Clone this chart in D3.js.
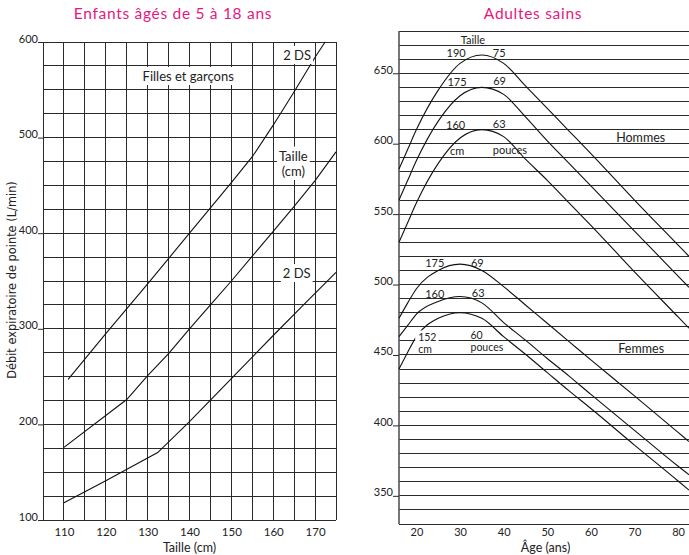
<!DOCTYPE html>
<html>
<head>
<meta charset="utf-8">
<script src="https://cdn.jsdelivr.net/npm/d3@7"></script>
<style>
  body { margin: 0; background: #fff; }
  svg { display: block; font-family: Lato, "Open Sans", sans-serif; }
</style>
</head>
<body>
<div id="chart"></div>
<script>
/* Débit expiratoire de pointe : enfants (taille) et adultes (âge) */

// --- enfants : taille (cm) -> DEP (L/min)
const tailleHaut = [111, 120, 130, 140, 150, 155, 160, 165, 170, 172.4];
const depHaut    = [247, 295, 347, 400, 453, 480, 513, 548, 584, 600];
const tailleMoy  = [110, 125, 130, 135, 140, 145, 150, 155, 160, 165, 170, 175];
const depMoy     = [176, 226, 251, 274, 300, 325, 350, 376, 402, 428, 455, 485];
const tailleBas  = [110, 120, 132.4, 140, 150, 160, 167, 175];
const depBas     = [118, 141, 170.5, 203, 248, 293, 324, 359];

const tailleTicks = [110, 120, 130, 140, 150, 160, 170];
const depTicks    = [100, 200, 300, 400, 500, 600];

// --- adultes : âge (ans) -> DEP (L/min)
const ages = [16, 18, 20, 25, 30, 35, 40, 45, 50, 55, 60, 70, 80, 82.5];
const homme190 = [582, 596, 610, 638, 657, 663, 657, 641, 625, 609, 593, 560, 528, 520];
const homme175 = [560, 574, 588, 616, 634, 640, 635, 619, 602, 586, 570, 538, 506, 498];
const homme160 = [530, 544, 558, 586, 604, 610, 605, 589, 574, 558, 542, 509, 477, 469];
const femme175 = [476, 487, 497, 510, 514.5, 510, 498.5, 485.5, 472.5, 459.5, 446.5, 421, 395, 388.5];
const femme160 = [463, 471, 479, 488, 491.5, 487, 473, 460.5, 447.5, 435, 422, 396.5, 371, 365];
const femme152 = [440, 452, 463, 476, 480, 476, 463, 450.5, 437.5, 424.5, 412, 386, 360.5, 354];

const ageTicks = [20, 30, 40, 50, 60, 70, 80];
const depAdTicks = [350, 400, 450, 500, 550, 600, 650];

const width = 689, height = 555;
const pink = "#e6177e";

let svg = d3.select("#chart")
    .append("svg")
    .attr("width", width)
    .attr("height", height)
    .attr("viewBox", [0, 0, width, height]);

// ================= graphique gauche =================
let xL = d3.scaleLinear().domain([105, 175]).range([43, 336]);
let yL = d3.scaleLinear().domain([100, 600]).range([520, 42]);

let gridL = svg.append("g")
    .attr("stroke", "#2a2a2a")
    .attr("shape-rendering", "crispEdges");

gridL.selectAll(".v")
    .data(d3.range(105, 176, 5))
    .join("line")
    .attr("x1", d => xL(d)).attr("x2", d => xL(d))
    .attr("y1", yL(100)).attr("y2", yL(600));

gridL.selectAll(".h")
    .data(d3.range(100, 601, 25))
    .join("line")
    .attr("x1", xL(105)).attr("x2", xL(175))
    .attr("y1", d => yL(d)).attr("y2", d => yL(d));

// y axis (labels sit on the tick line)
svg.append("g")
    .attr("transform", `translate(${xL(105)},0)`)
    .call(d3.axisLeft(yL).tickValues(depTicks).tickSize(5).tickPadding(0))
    .call(g => g.select(".domain").remove())
    .call(g => g.selectAll("line").attr("stroke", "#2a2a2a"))
    .call(g => g.selectAll("text")
        .attr("x", -5).attr("dy", "0em")
        .attr("font-family", "Lato").attr("font-size", 11).attr("fill", "#222"));

// x axis
svg.append("g")
    .attr("transform", `translate(0,${yL(100)})`)
    .call(d3.axisBottom(xL).tickValues(tailleTicks).tickSize(0).tickPadding(8))
    .call(g => g.select(".domain").remove())
    .call(g => g.selectAll("text")
        .attr("font-family", "Lato").attr("font-size", 11.5).attr("fill", "#222"));

let lineL = d3.line()
    .x(d => xL(d[0]))
    .y(d => yL(d[1]));

svg.append("g")
    .attr("fill", "none")
    .attr("stroke", "#111")
    .attr("stroke-width", 1.1)
    .selectAll("path")
    .data([d3.zip(tailleHaut, depHaut), d3.zip(tailleMoy, depMoy), d3.zip(tailleBas, depBas)])
    .join("path")
    .attr("d", lineL);

// labels with white box
function boxedText(g, txt, x, y, anchor, size) {
    let t = g.append("text")
        .text(txt)
        .attr("x", x).attr("y", y)
        .attr("text-anchor", anchor)
        .attr("font-size", size)
        .attr("fill", "#222");
    let b = t.node().getBBox();
    g.insert("rect", () => t.node())
        .attr("x", b.x - 2).attr("y", b.y - 1)
        .attr("width", b.width + 4).attr("height", b.height + 2)
        .attr("fill", "#fff");
    return t;
}

let labL = svg.append("g");
boxedText(labL, "2 DS", xL(162.4), yL(581.2), "start", 13);
boxedText(labL, "Filles et garçons", xL(128.8), yL(559.2), "start", 13);
boxedText(labL, "Taille", xL(164.8), yL(476), "middle", 13);
boxedText(labL, "(cm)", xL(164.8), yL(459.8), "middle", 13);
boxedText(labL, "2 DS", xL(162.3), yL(353.1), "start", 13);

svg.append("text")
    .text("Taille (cm)")
    .attr("x", xL(140)).attr("y", 551.5)
    .attr("text-anchor", "middle")
    .attr("font-size", 12.5).attr("fill", "#222");

svg.append("text")
    .text("Débit expiratoire de pointe (L/min)")
    .attr("transform", "translate(16,280) rotate(-90)")
    .attr("text-anchor", "middle")
    .attr("font-family", "DejaVu Sans")
    .attr("font-size", 11.4).attr("fill", "#222");

svg.append("text")
    .text("Enfants âgés de 5 à 18 ans")
    .attr("x", 173).attr("y", 19)
    .attr("text-anchor", "middle")
    .attr("font-size", 15.5).attr("letter-spacing", 0.7)
    .attr("fill", pink);

// ================= graphique droit =================
let xR = d3.scaleLinear().domain([16, 82.5]).range([399, 689]);
let yR = d3.scaleLinear().domain([330, 680]).range([524, 31]);

svg.append("g")
    .attr("stroke", "#2a2a2a")
    .attr("shape-rendering", "crispEdges")
    .selectAll("line")
    .data(d3.range(330, 681, 10))
    .join("line")
    .attr("x1", xR(16)).attr("x2", xR(82.5))
    .attr("y1", d => yR(d)).attr("y2", d => yR(d));

svg.append("line")
    .attr("x1", xR(16)).attr("x2", xR(16))
    .attr("y1", yR(330)).attr("y2", yR(680))
    .attr("stroke", "#555").attr("stroke-width", 1.6);

svg.append("g")
    .attr("transform", `translate(${xR(16)},0)`)
    .call(d3.axisLeft(yR).tickValues(depAdTicks).tickSize(6).tickPadding(0))
    .call(g => g.select(".domain").remove())
    .call(g => g.selectAll("line").attr("stroke", "#2a2a2a"))
    .call(g => g.selectAll("text")
        .attr("x", -6).attr("dy", "0em")
        .attr("font-family", "Lato").attr("font-size", 11).attr("fill", "#222"));

svg.append("g")
    .attr("transform", `translate(0,${yR(330)})`)
    .call(d3.axisBottom(xR).tickValues(ageTicks).tickSize(0).tickPadding(4.5))
    .call(g => g.select(".domain").remove())
    .call(g => g.selectAll("text")
        .attr("font-family", "Lato").attr("font-size", 11).attr("fill", "#222"));

let lineR = d3.line()
    .x(d => xR(d[0]))
    .y(d => yR(d[1]))
    .curve(d3.curveMonotoneX);

svg.append("g")
    .attr("fill", "none")
    .attr("stroke", "#111")
    .attr("stroke-width", 1.1)
    .selectAll("path")
    .data([homme190, homme175, homme160, femme175, femme160, femme152].map(s => d3.zip(ages, s)))
    .join("path")
    .attr("d", lineR);

let labR = svg.append("g")
    .attr("font-size", 11)
    .attr("fill", "#222");

const lab = (txt, a, v, size) => labR.append("text")
    .text(txt)
    .attr("x", xR(a)).attr("y", yR(v))
    .attr("font-size", size || 11);

lab("Taille", 30.15, 670.8);
lab("190", 26.9, 661.3);
lab("75", 37.5, 661.8);
lab("175", 27.1, 641);
lab("69", 37.6, 641.5);
lab("160", 26.8, 610.2);
lab("63", 37.5, 610.9);
lab("cm", 27.7, 592);
lab("pouces", 37.5, 592.7);
lab("Hommes", 65.8, 601.4, 12.5);

lab("175", 22.0, 512.7);
lab("69", 32.5, 512.7);
lab("160", 22.0, 490.2);
lab("63", 32.7, 490.9);
lab("60", 32.4, 461.3, 10.5);
lab("pouces", 32.4, 452.6, 10.5);
lab("Femmes", 66.3, 451.2, 12.5);

// "152 cm" sits on a white box that cuts the 152 curve
let t152 = lab("152", 20.4, 459.6, 10.5);
let tcm = lab("cm", 20.4, 451.2, 10.5);
let b1 = t152.node().getBBox(), b2 = tcm.node().getBBox();
labR.insert("rect", () => t152.node())
    .attr("x", b1.x - 3).attr("y", b1.y - 1)
    .attr("width", Math.max(b1.width, b2.width) + 5)
    .attr("height", b2.y + b2.height - b1.y - 2)
    .attr("fill", "#fff");

svg.append("text")
    .text("Âge (ans)")
    .attr("x", xR(49.6)).attr("y", 551.5)
    .attr("text-anchor", "middle")
    .attr("font-size", 12.5).attr("fill", "#222");

svg.append("text")
    .text("Adultes sains")
    .attr("x", 533).attr("y", 19)
    .attr("text-anchor", "middle")
    .attr("font-size", 15.5).attr("letter-spacing", 0.7)
    .attr("fill", pink);
</script>
</body>
</html>
